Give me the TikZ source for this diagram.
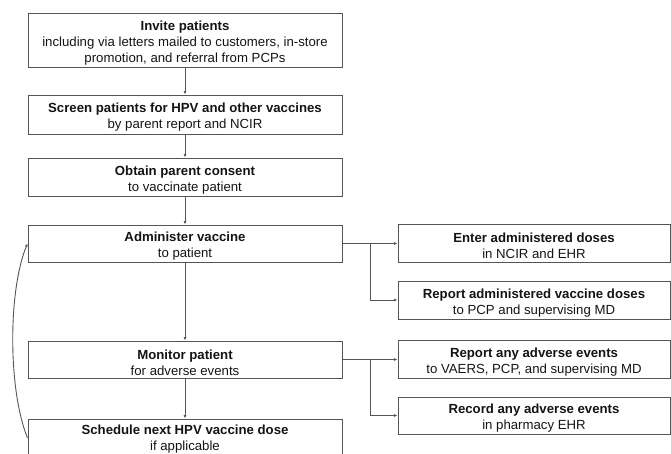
\documentclass[tikz,border=0pt]{standalone}
\usepackage{fontspec}
\setmainfont{Liberation Sans}
\usetikzlibrary{arrows.meta}
\definecolor{linegray}{HTML}{555555}
\definecolor{txt}{HTML}{141414}
\newcommand{\tstrut}{\rule{0pt}{15.5pt}}
\tikzset{
  box/.style={draw=linegray, line width=1pt, rectangle, inner sep=0pt, align=center,
    text=txt, font=\fontsize{13.2}{16}\selectfont},
  leftbox/.style={box, minimum width=314pt},
  rightbox/.style={box, minimum width=272pt},
  conn/.style={draw=linegray, line width=0.9pt, -{Latex[length=3.5pt,width=3pt]}},
  plain/.style={draw=linegray, line width=0.9pt}
}
\begin{document}
\begin{tikzpicture}[x=1pt,y=-1pt]
\useasboundingbox (0,0) rectangle (671,453);
\clip (0,0) rectangle (671,453);
% left column
\node[leftbox, minimum height=54pt] (invite) at (185,40) {\tstrut\textbf{Invite patients}\\including via letters mailed to customers, in-store\\promotion, and referral from PCPs};
\node[leftbox, minimum height=39pt] (screen) at (185,114.5) {\tstrut\textbf{Screen patients for HPV and other vaccines}\\by parent report and NCIR};
\node[leftbox, minimum height=38pt] (consent) at (185,177) {\tstrut\textbf{Obtain parent consent}\\to vaccinate patient};
\node[leftbox, minimum height=37pt] (admin) at (185,243.5) {\tstrut\textbf{Administer vaccine}\\to patient};
\node[leftbox, minimum height=37pt] (monitor) at (185,359.5) {\tstrut\textbf{Monitor patient}\\for adverse events};
\node[leftbox, minimum height=38pt] (sched) at (185,438) {\rule{0pt}{11.5pt}\textbf{Schedule next HPV vaccine dose}\\if applicable};
% right column
\node[rightbox, minimum height=38pt] (enter) at (534,243) {\tstrut\textbf{Enter administered doses}\\in NCIR and EHR};
\node[rightbox, minimum height=38pt] (reportdose) at (534,300) {\tstrut\textbf{Report administered vaccine doses}\\to PCP and supervising MD};
\node[rightbox, minimum height=38pt] (reportae) at (534,359) {\tstrut\textbf{Report any adverse events}\\to VAERS, PCP, and supervising MD};
\node[rightbox, minimum height=37pt] (recordae) at (534,415.5) {\tstrut\textbf{Record any adverse events}\\in pharmacy EHR};
% vertical connectors
\draw[conn] (invite) -- (screen);
\draw[conn] (screen) -- (consent);
\draw[conn] (consent) -- (admin);
\draw[conn] (admin) -- (monitor);
\draw[conn] (monitor) -- (sched);
% branches
\coordinate (b1) at (370,243.5);
\coordinate (b2) at (370,359.5);
\draw[plain] (admin.east) -- (b1);
\draw[conn] (b1) -- (b1 -| enter.west);
\draw[conn] (b1) |- (reportdose.west);
\draw[plain] (monitor.east) -- (b2);
\draw[conn] (b2) -- (b2 -| reportae.west);
\draw[conn] (b2) |- (recordae.west);
% loop back
\draw[conn] (sched.west) .. controls (8,390) and (8,291) .. (admin.west);
\end{tikzpicture}
\end{document}
